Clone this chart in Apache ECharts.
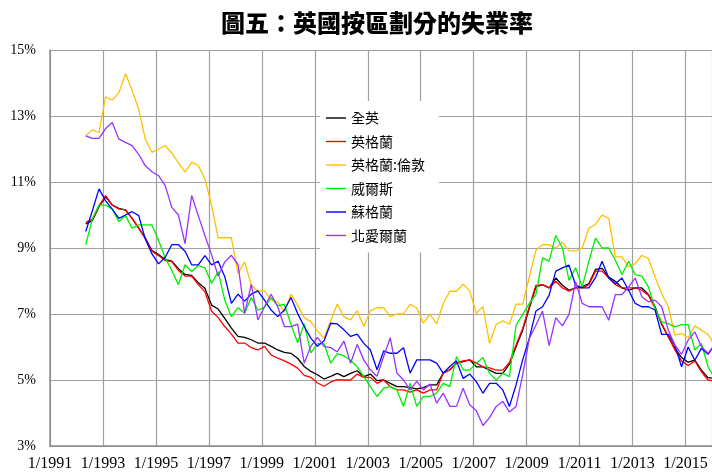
<!DOCTYPE html>
<html>
<head>
<meta charset="utf-8">
<script src="https://cdn.jsdelivr.net/npm/echarts@6/dist/echarts.min.js"></script>
<style>
    html, body { margin: 0; padding: 0; background: #fff; }
    #main { width: 712px; height: 472px; }
</style>
</head>
<body>
<div id="main"></div>
<script>
// 季度數據, 由 1992 年中開始
var startYear = 1992.35;
var step = 0.25;

var ukAll = [9.73, 9.83, 10.25, 10.55, 10.3, 10.2, 10.15, 9.9, 9.6, 9.3, 8.92, 8.8, 8.65, 8.6, 8.37, 8.2, 8.17, 7.95, 7.78, 7.27,
    7.15, 6.87, 6.57, 6.32, 6.29, 6.22, 6.12, 6.12, 6.02, 5.91, 5.84, 5.81, 5.66, 5.41, 5.26, 5.16, 5.03, 5.11, 5.2, 5.1,
    5.2, 5.28, 5.1, 5.18, 4.98, 5.0, 4.9, 4.8, 4.8, 4.77, 4.73, 4.77, 4.85, 4.85, 5.21, 5.31, 5.51, 5.56, 5.61, 5.4,
    5.4, 5.3, 5.2, 5.2, 5.48, 6.01, 6.51, 7.17, 7.82, 7.89, 7.79, 8.09, 7.87, 7.72, 7.79, 7.82, 7.92, 8.35, 8.38, 8.12,
    7.99, 7.79, 7.72, 7.79, 7.79, 7.59, 7.22, 6.68, 6.31, 5.96, 5.68, 5.54, 5.6, 5.3, 5.07, 5.05];
var england = [9.78, 9.88, 10.28, 10.59, 10.3, 10.18, 10.16, 9.9, 9.6, 9.28, 8.9, 8.77, 8.62, 8.59, 8.32, 8.15, 8.15, 7.89, 7.67, 7.09,
    6.89, 6.62, 6.39, 6.12, 6.12, 5.98, 5.91, 6.02, 5.76, 5.66, 5.58, 5.48, 5.36, 5.14, 5.08, 4.91, 4.81, 4.94, 5.01, 5.0,
    5.0, 5.18, 5.08, 5.08, 4.9, 5.0, 4.8, 4.7, 4.7, 4.63, 4.7, 4.6, 4.7, 4.7, 5.21, 5.31, 5.51, 5.58, 5.61, 5.51,
    5.4, 5.37, 5.3, 5.3, 5.53, 6.06, 6.56, 7.22, 7.87, 7.89, 7.79, 7.99, 7.79, 7.69, 7.79, 7.79, 7.89, 8.3, 8.3, 8.09,
    7.89, 7.79, 7.79, 7.79, 7.72, 7.57, 7.17, 6.71, 6.31, 5.91, 5.58, 5.44, 5.58, 5.25, 5.0, 4.97];
var london = [12.4, 12.58, 12.5, 13.58, 13.48, 13.7, 14.28, 13.78, 13.2, 12.3, 11.9, 12.0, 12.1, 11.88, 11.58, 11.3, 11.6, 11.5, 11.1, 10.3,
    9.31, 9.31, 9.31, 8.23, 8.58, 7.88, 7.7, 7.7, 7.42, 7.37, 7.07, 7.6, 7.27, 6.89, 6.77, 6.49, 6.27, 6.8, 7.3, 6.92,
    6.82, 7.1, 6.62, 7.1, 7.19, 7.19, 6.92, 7.0, 7.0, 7.29, 7.19, 6.72, 7.0, 6.7, 7.32, 7.69, 7.69, 7.9, 7.7, 7.02,
    7.22, 6.11, 6.69, 6.79, 6.69, 7.3, 7.3, 8.12, 8.93, 9.1, 9.1, 9.0, 9.18, 8.91, 8.91, 9.0, 9.6, 9.72, 10.0, 9.9,
    8.73, 8.73, 8.43, 8.53, 8.78, 8.68, 8.12, 7.62, 7.22, 6.36, 6.41, 6.28, 6.64, 6.51, 6.38, 6.06];
var wales = [9.1, 9.88, 10.3, 10.3, 10.18, 9.8, 9.98, 9.6, 9.7, 9.7, 9.7, 9.23, 8.7, 8.32, 7.89, 8.49, 8.29, 8.47, 8.4, 7.93,
    8.28, 7.42, 6.92, 7.19, 7.02, 7.5, 7.12, 7.2, 7.5, 7.25, 7.29, 6.69, 6.13, 6.7, 5.82, 6.1, 6.1, 5.51, 5.8, 5.73,
    5.6, 5.4, 5.1, 4.8, 4.5, 4.75, 4.8, 4.7, 4.2, 4.9, 4.2, 4.5, 4.5, 4.6, 4.9, 4.8, 5.71, 5.31, 5.3, 5.51,
    5.68, 5.2, 5.0, 5.2, 5.1, 6.66, 6.99, 7.32, 7.59, 8.7, 8.6, 9.38, 9.0, 8.02, 8.4, 7.82, 8.6, 9.3, 9.0, 9.0,
    8.63, 8.19, 8.6, 8.19, 8.15, 7.82, 7.17, 6.76, 6.71, 6.61, 6.68, 6.68, 5.91, 6.11, 5.4, 5.05];
var scotland = [9.5, 10.13, 10.79, 10.43, 10.18, 9.9, 10.0, 10.1, 9.98, 9.27, 8.82, 8.52, 8.72, 9.1, 9.1, 8.9, 8.49, 8.49, 8.77, 8.49,
    8.6, 8.13, 7.32, 7.6, 7.39, 7.6, 7.7, 7.42, 7.12, 6.92, 7.12, 7.5, 7.02, 6.62, 6.27, 6.02, 6.19, 6.72, 6.7, 6.52,
    6.32, 6.39, 6.11, 5.91, 5.31, 5.88, 5.81, 5.81, 5.98, 5.21, 5.61, 5.61, 5.61, 5.51, 5.21, 5.41, 5.58, 5.05, 5.18, 4.95,
    4.6, 4.9, 4.9, 4.7, 4.2, 4.85, 5.61, 6.26, 7.09, 7.22, 7.57, 8.3, 8.4, 8.48, 7.87, 7.79, 7.79, 8.1, 8.6, 8.09,
    7.92, 8.09, 7.72, 7.32, 7.22, 7.22, 7.12, 6.38, 6.38, 6.06, 5.4, 6.0, 5.6, 5.96, 5.78, 6.06];
var nIreland = [12.4, 12.32, 12.32, 12.62, 12.8, 12.3, 12.2, 12.1, 11.84, 11.49, 11.31, 11.19, 10.89, 10.23, 10.0, 9.13, 10.59, 9.98, 9.38, 8.8,
    8.15, 8.58, 8.78, 8.5, 7.02, 7.9, 6.82, 7.22, 7.6, 7.22, 6.62, 6.62, 6.69, 5.51, 6.02, 6.29, 6.02, 5.98, 5.85, 6.18,
    5.51, 6.08, 5.61, 5.31, 5.11, 5.71, 6.28, 5.21, 5.0, 4.7, 4.96, 4.7, 4.88, 4.3, 4.6, 4.2, 4.2, 4.75, 4.25, 4.07,
    3.62, 3.86, 4.2, 4.35, 4.03, 4.2, 5.15, 6.26, 6.66, 7.09, 6.04, 6.89, 6.64, 6.99, 7.97, 7.32, 7.22, 7.22, 7.22, 6.81,
    7.59, 7.59, 7.82, 8.09, 7.52, 7.37, 7.42, 7.22, 6.51, 6.06, 5.78, 6.21, 6.46, 6.01, 5.81, 6.06];

var names = ['全英', '英格蘭', '英格蘭:倫敦', '威爾斯', '蘇格蘭', '北愛爾蘭'];
var colors = ['#000000', '#ff0000', '#ffc000', '#00ee00', '#0000ff', '#9933ff'];
var values = [ukAll, england, london, wales, scotland, nIreland];

function pairs(arr) {
    var out = [];
    for (var i = 0; i < arr.length; i++) {
        out.push([startYear + i * step, arr[i]]);
    }
    return out;
}

var chart = echarts.init(document.getElementById('main'));

var series = [];
for (var k = 0; k < names.length; k++) {
    series.push({
        name: names[k],
        type: 'line',
        data: pairs(values[k]),
        symbol: 'none',
        lineStyle: { color: colors[k], width: 1.3 },
        itemStyle: { color: colors[k] }
    });
}

var option = {
    animation: false,
    backgroundColor: '#fff',
    title: {
        text: '圖五：英國按區劃分的失業率',
        left: 216,
        top: 6,
        textStyle: {
            fontFamily: 'Noto Sans CJK TC',
            fontSize: 24,
            fontWeight: 900,
            color: '#000'
        }
    },
    grid: {
        left: 50,
        right: 0,
        top: 50,
        bottom: 24
    },
    legend: {
        orient: 'vertical',
        left: 320,
        top: 101,
        padding: [10, 14, 10, 6],
        backgroundColor: '#fff',
        icon: 'path://M0,0h20v1.4h-20z',
        itemWidth: 20,
        itemHeight: 14,
        itemGap: 9.5,
        data: names,
        textStyle: {
            fontFamily: 'Noto Sans CJK TC',
            fontSize: 14,
            color: '#000'
        }
    },
    xAxis: {
        type: 'value',
        min: 1991,
        max: 2016,
        interval: 2,
        axisLine: { show: true, lineStyle: { color: '#8c8c8c', width: 1.5 } },
        axisTick: { show: false },
        splitLine: { show: true, lineStyle: { color: '#a0a0a0', width: 1.2 } },
        axisLabel: {
            margin: 10,
            showMaxLabel: false,
            fontFamily: 'Liberation Serif',
            fontSize: 16,
            color: '#000',
            formatter: function (v) { return '1/' + v; }
        }
    },
    yAxis: {
        type: 'value',
        min: 3,
        max: 15,
        interval: 2,
        axisLine: { show: true, lineStyle: { color: '#8c8c8c', width: 1.5 } },
        axisTick: { show: false },
        splitLine: { show: true, lineStyle: { color: '#a0a0a0', width: 1.2 } },
        axisLabel: {
            margin: 14,
            fontFamily: 'Liberation Serif',
            fontSize: 14,
            color: '#000',
            formatter: '{value}%'
        }
    },
    series: series
};
chart.setOption(option);
</script>
</body>
</html>
